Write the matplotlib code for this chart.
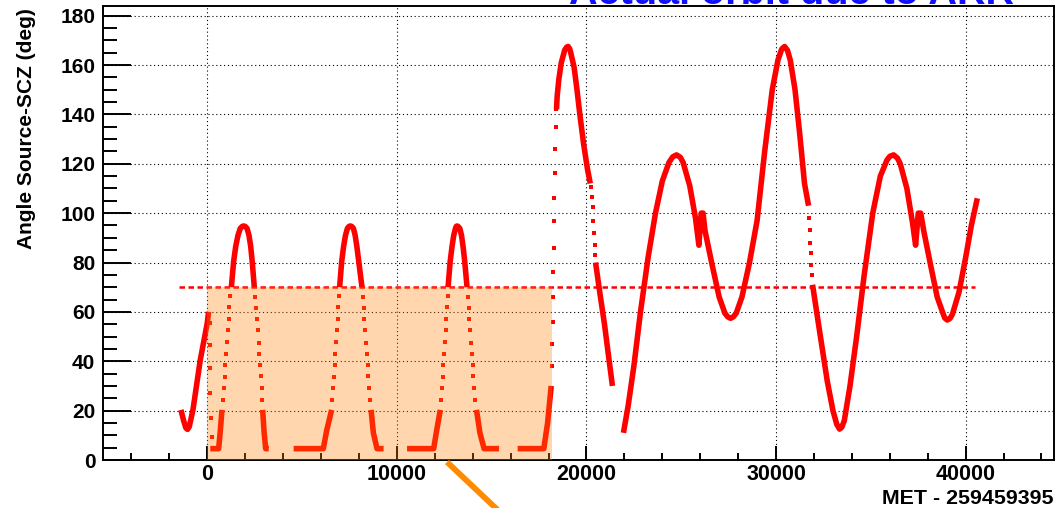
import matplotlib
matplotlib.use("Agg")
import matplotlib.pyplot as plt
from matplotlib.ticker import MultipleLocator

plt.rcParams['font.family'] = ['Liberation Sans', 'DejaVu Sans']

# ---------------------------------------------------------------------------
# Angle between source and spacecraft Z axis (time in s since MET 259459395)
# ---------------------------------------------------------------------------

# densely sampled stretches, drawn as thick red traces
pre_t = [-1390, -1250, -1130, -1040, -950, -755, -370, 0, 70]
pre_y = [20.3, 16, 13, 12.4, 13.5, 20.3, 40.5, 55.5, 60]

hump1_rise_t = [160, 600, 690, 775]
hump1_top_t = [1270, 1390, 1500, 1620, 1740, 1840, 1920, 2000, 2100, 2200,
               2290, 2370, 2480]
hump1_fall_t = [2920, 3000, 3080, 3240]

hump2_rise_t = [4555, 6120, 6300, 6560]
hump2_top_t = [6980, 7090, 7190, 7290, 7390, 7470, 7546, 7620, 7710, 7800,
               7890, 7990, 8160]
hump2_fall_t = [8640, 8760, 8953, 9300]

hump3_rise_t = [10537, 11942, 12100, 12290]
hump3_top_t = [12700, 12810, 12910, 13000, 13090, 13130, 13172, 13230, 13320,
               13410, 13490, 13580, 13700]
hump3_fall_t = [14200, 14380, 14600, 15390]

hump_rise_y = [4.6, 4.6, 12, 20.3]
hump_top_y = [70, 80.4, 86.5, 91, 93.8, 94.6, 94.8, 94.6, 93.8, 91, 86.5,
              80.4, 70]
hump_fall_y = [20.3, 11, 4.6, 4.6]

last_rise_t = [16370, 17750, 17950, 18140]
last_rise_y = [4.6, 4.6, 15, 30]

peak1_t = [18420, 18453, 18540, 18665, 18850, 18950, 19034, 19120, 19200,
           19350, 19500, 19650, 19850, 20050, 20200]
peak1_y = [142, 147.2, 154, 160.7, 166, 167.2, 167.5, 166.5, 164,
           159, 150, 140, 128, 118, 112]

drop1_t = [20480, 20700, 20950, 21150, 21370]
drop1_y = [80, 68, 55, 43, 30]

orbit1_t = [21950, 22200, 22500, 22850, 23250, 23640, 24000, 24350, 24550,
            24750, 24950, 25100, 25450, 25750, 25930, 26050, 26150, 26250,
            26600, 27000, 27300, 27450, 27600, 27750, 27900, 28200, 28600,
            29000, 29400, 29800, 30100, 30300, 30450, 30600, 30750, 31000,
            31250, 31500, 31715]
orbit1_y = [11, 22, 38, 60, 82, 100, 113, 120.5, 122.8,
            123.6, 122.6, 120.5, 111, 98, 87, 100, 100, 93,
            80, 66, 59.5, 58, 57.4, 58, 59.5, 66, 80,
            97, 125, 150, 162, 166.5, 167.5, 166, 162, 150,
            132, 112, 103]

orbit2_t = [31925, 32300, 32700, 33000, 33200, 33350, 33470, 33600, 33900,
            34250, 34650, 35100, 35500, 35850, 36000, 36200, 36400, 36550,
            36900, 37200, 37360, 37500, 37630, 37800, 38150, 38500, 38800,
            38900, 39030, 39170, 39300, 39650, 40000, 40300, 40615]
orbit2_y = [71, 52, 32, 20, 14.5, 12.5, 13.3, 16, 30,
            50, 75, 100, 115, 121.5, 123, 123.6, 122.3, 120,
            110, 96, 87, 100, 100, 92.4, 79, 66, 59.5,
            57.5, 56.7, 57.3, 59, 68, 82, 95, 106]

# sparsely sampled points during fast slews
slew_rise_y = [24.5, 29, 33.5, 38.5, 43, 48, 52.5, 57, 62, 66.5]
slew_fall_y = [66, 61.5, 57, 52.5, 47.5, 43, 38.5, 34, 29, 24.5]

dots_zero_t = [120, 140, 150, 170, 190, 260]
dots_zero_y = [55.4, 46.6, 37.1, 27, 16.9, 9.4]
dots_h1_rise_t = [830, 870, 910, 960, 1000, 1040, 1090, 1130, 1170, 1220]
dots_h1_fall_t = [2530, 2580, 2620, 2670, 2710, 2750, 2790, 2830, 2870, 2900]
dots_h2_rise_t = [6600, 6640, 6680, 6720, 6760, 6800, 6840, 6880, 6910, 6950]
dots_h2_fall_t = [8200, 8250, 8290, 8330, 8370, 8420, 8460, 8500, 8550, 8600]
dots_h3_rise_t = [12330, 12370, 12410, 12450, 12490, 12530, 12570, 12610, 12640, 12680]
dots_h3_fall_t = [13740, 13790, 13830, 13870, 13910, 13960, 14000, 14040, 14090, 14140]
dots_arr_t = [18170, 18190, 18210, 18230, 18250, 18270, 18290, 18310, 18330,
              18350, 18380, 18400]
dots_arr_y = [38, 47, 56, 66, 76, 86, 96.8, 106.3, 116.2, 125.9, 135, 142]
dots_fall1_t = [20250, 20290, 20330, 20370, 20400, 20430, 20460]
dots_fall1_y = [110.5, 106.5, 102.5, 97, 92, 87, 83]
dots_fall2_t = [31740, 31770, 31800, 31830, 31860, 31890]
dots_fall2_y = [98, 93, 88, 84, 79, 75]

# angle limit and the survey interval before the ARR
limit = 70
limit_t = [-1500, 40500]
survey_t = [0, 18200]

x_ticks = [0, 10000, 20000, 30000, 40000]
y_ticks = [0, 20, 40, 60, 80, 100, 120, 140, 160, 180]

# ---------------------------------------------------------------------------
W, H = 1061, 508
fig = plt.figure(figsize=(W / 100, H / 100), dpi=100)
ax = fig.add_axes([103 / W, 48 / H, 951 / W, 454 / H])

dense = [
    (pre_t, pre_y),
    (hump1_rise_t, hump_rise_y), (hump1_top_t, hump_top_y), (hump1_fall_t, hump_fall_y),
    (hump2_rise_t, hump_rise_y), (hump2_top_t, hump_top_y), (hump2_fall_t, hump_fall_y),
    (hump3_rise_t, hump_rise_y), (hump3_top_t, hump_top_y), (hump3_fall_t, hump_fall_y),
    (last_rise_t, last_rise_y), (peak1_t, peak1_y), (drop1_t, drop1_y),
    (orbit1_t, orbit1_y), (orbit2_t, orbit2_y),
]
for t, y in dense:
    ax.plot(t, y, color='red', lw=4.0, solid_joinstyle='round',
            solid_capstyle='butt', zorder=3)

sparse = [
    (dots_zero_t, dots_zero_y),
    (dots_h1_rise_t, slew_rise_y), (dots_h1_fall_t, slew_fall_y),
    (dots_h2_rise_t, slew_rise_y), (dots_h2_fall_t, slew_fall_y),
    (dots_h3_rise_t, slew_rise_y), (dots_h3_fall_t, slew_fall_y),
    (dots_arr_t, dots_arr_y), (dots_fall1_t, dots_fall1_y),
    (dots_fall2_t, dots_fall2_y),
]
for t, y in sparse:
    ax.plot(t, y, ls='none', marker='s', ms=3.0, mew=0, color='red', zorder=3)

ax.plot(limit_t, [limit, limit], color='red', lw=1.8,
        linestyle=(0, (2.2, 1.4)), zorder=3)

# translucent orange box over the survey interval
ax.fill_between(survey_t, 0, limit, color=(1.0, 0.5, 0.0), alpha=0.32,
                lw=0, zorder=5)

ax.set_xlim(-5500, 44660)
ax.set_ylim(0, 183.9)
ax.set_xticks(x_ticks)
ax.set_yticks(y_ticks)
ax.xaxis.set_minor_locator(MultipleLocator(2000))
ax.yaxis.set_minor_locator(MultipleLocator(5))
ax.grid(True, which='major', color='black', lw=0.8, linestyle=(0, (1, 2.5)),
        zorder=1)
ax.set_axisbelow(True)

ax.tick_params(axis='x', which='major', direction='in', length=9.8, width=1.4,
               pad=3, labelsize=15.5, top=False)
ax.tick_params(axis='x', which='minor', direction='in', length=4.9, width=1.4,
               top=False)
ax.tick_params(axis='y', which='major', direction='in', length=20.5, width=1.4,
               pad=5.5, labelsize=15, right=False)
ax.tick_params(axis='y', which='minor', direction='in', length=10.3, width=1.4,
               right=False)
for lab in ax.get_xticklabels() + ax.get_yticklabels():
    lab.set_fontweight('bold')
for s in ax.spines.values():
    s.set_linewidth(1.4)

fig.text(27 / W, 1 - 8 / H, 'Angle Source-SCZ (deg)', rotation=90,
         ha='center', va='top', fontsize=15, fontweight='bold')
fig.text(1053 / W, 1 - 504 / H, 'MET - 259459395', ha='right',
         va='baseline', fontsize=15.4, fontweight='bold')
fig.text(1014 / W, 1 - 4.5 / H, 'Actual orbit due to ARR', ha='right',
         va='baseline', fontsize=28.5, fontweight='bold', color='#1010ff')

# orange pointer running off the bottom edge
ax.annotate('', xy=(447, H - 462), xycoords='figure pixels',
            xytext=(522, H - 533), textcoords='figure pixels',
            arrowprops=dict(arrowstyle='-', color=(1.0, 0.55, 0.0), lw=4.2,
                            capstyle='butt', shrinkA=0, shrinkB=0),
            annotation_clip=False)

fig.savefig('out.png', dpi=100)
